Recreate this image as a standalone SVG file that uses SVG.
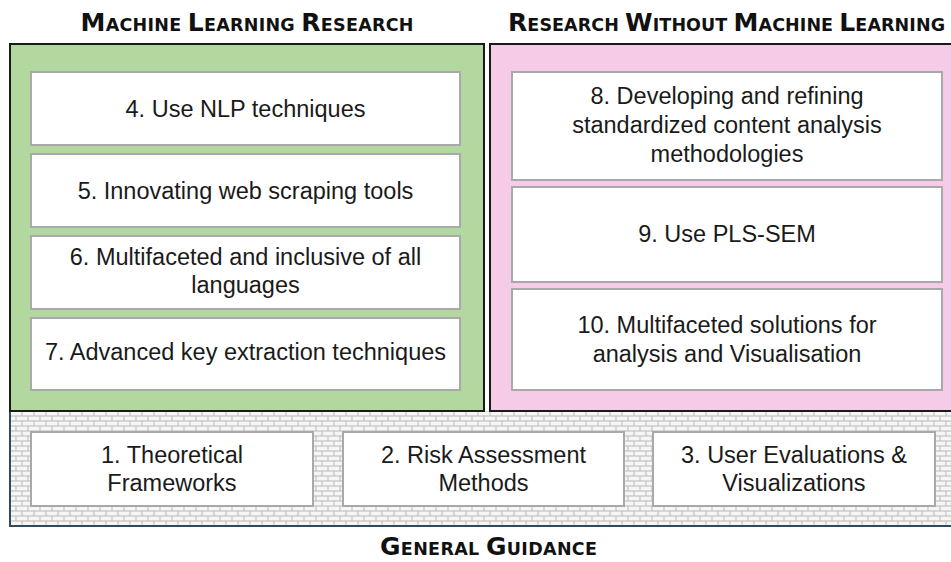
<svg xmlns="http://www.w3.org/2000/svg" width="951" height="562" viewBox="0 0 951 562">
  <style>
    .box { fill: #ffffff; stroke: #a9a9a9; stroke-width: 2; }
    .panel { stroke: #1a1a1a; stroke-width: 2; }
    .t { font-family: "Liberation Sans", Arial, sans-serif; font-size: 23.5px; fill: #1a1a1a; text-anchor: middle; }
    .h { font-family: "DejaVu Sans", "Liberation Sans", sans-serif; font-weight: bold; fill: #111111; text-anchor: middle; }
    .big { font-size: 25px; }
    .sm { font-size: 17.5px; }
  </style>
  <defs>
    <pattern id="bricks" patternUnits="userSpaceOnUse" x="10" y="411" width="12" height="10">
      <rect width="12" height="10" fill="#b9b9b9"/>
      <rect x="0.5" y="0.5" width="11" height="4" fill="#f6f6f6"/>
      <rect x="6.5" y="5.5" width="11" height="4" fill="#f6f6f6"/>
      <rect x="-5.5" y="5.5" width="11" height="4" fill="#f6f6f6"/>
    </pattern>
  </defs>

  <rect width="951" height="562" fill="#ffffff"/>

  <!-- headings -->
  <text class="h" x="247" y="30.5" textLength="333" lengthAdjust="spacing"><tspan class="big">M</tspan><tspan class="sm">ACHINE </tspan><tspan class="big">L</tspan><tspan class="sm">EARNING </tspan><tspan class="big">R</tspan><tspan class="sm">ESEARCH</tspan></text>
  <text class="h" x="726.5" y="30.5" textLength="437" lengthAdjust="spacing"><tspan class="big">R</tspan><tspan class="sm">ESEARCH </tspan><tspan class="big">W</tspan><tspan class="sm">ITHOUT </tspan><tspan class="big">M</tspan><tspan class="sm">ACHINE </tspan><tspan class="big">L</tspan><tspan class="sm">EARNING</tspan></text>
  <text class="h" x="488.5" y="555" textLength="217" lengthAdjust="spacing"><tspan class="big">G</tspan><tspan class="sm">ENERAL </tspan><tspan class="big">G</tspan><tspan class="sm">UIDANCE</tspan></text>

  <!-- foundation band -->
  <g id="general-guidance">
    <rect x="10" y="411" width="945" height="115" fill="url(#bricks)"/>
    <path d="M10 411 V526 H951" fill="none" stroke="#34495a" stroke-width="2"/>
  </g>

  <!-- two research panels -->
  <g id="ml-panel">
    <rect class="panel" x="10" y="44" width="474" height="367" fill="#b2d8a0"/>
  </g>
  <g id="non-ml-panel">
    <rect class="panel" x="490" y="44" width="470" height="367" fill="#f6cbe7"/>
  </g>

  <!-- machine learning items -->
  <g id="item-4">
    <rect class="box" x="31" y="72" width="429" height="73"/>
    <text class="t" x="245.5" y="117">4. Use NLP techniques</text>
  </g>
  <g id="item-5">
    <rect class="box" x="31" y="154" width="429" height="73"/>
    <text class="t" x="245.5" y="199">5. Innovating web scraping tools</text>
  </g>
  <g id="item-6">
    <rect class="box" x="31" y="236" width="429" height="73"/>
    <text class="t" x="245.5" y="265">6. Multifaceted and inclusive of all</text>
    <text class="t" x="245.5" y="293">languages</text>
  </g>
  <g id="item-7">
    <rect class="box" x="31" y="318" width="429" height="72"/>
    <text class="t" x="245.5" y="360">7. Advanced key extraction techniques</text>
  </g>

  <!-- non machine learning items -->
  <g id="item-8">
    <rect class="box" x="512" y="72" width="430" height="108"/>
    <text class="t" x="727" y="104">8. Developing and refining</text>
    <text class="t" x="727" y="133">standardized content analysis</text>
    <text class="t" x="727" y="162">methodologies</text>
  </g>
  <g id="item-9">
    <rect class="box" x="512" y="187" width="430" height="95"/>
    <text class="t" x="727" y="242">9. Use PLS-SEM</text>
  </g>
  <g id="item-10">
    <rect class="box" x="512" y="289" width="430" height="101"/>
    <text class="t" x="727" y="333">10. Multifaceted solutions for</text>
    <text class="t" x="727" y="362">analysis and Visualisation</text>
  </g>

  <!-- general guidance items -->
  <g id="item-1">
    <rect class="box" x="31" y="432" width="282" height="74"/>
    <text class="t" x="172" y="463">1. Theoretical</text>
    <text class="t" x="172" y="491">Frameworks</text>
  </g>
  <g id="item-2">
    <rect class="box" x="343" y="432" width="281" height="74"/>
    <text class="t" x="483.5" y="463">2. Risk Assessment</text>
    <text class="t" x="483.5" y="491">Methods</text>
  </g>
  <g id="item-3">
    <rect class="box" x="653" y="432" width="282" height="74"/>
    <text class="t" x="794" y="463">3. User Evaluations &amp;</text>
    <text class="t" x="794" y="491">Visualizations</text>
  </g>
</svg>
